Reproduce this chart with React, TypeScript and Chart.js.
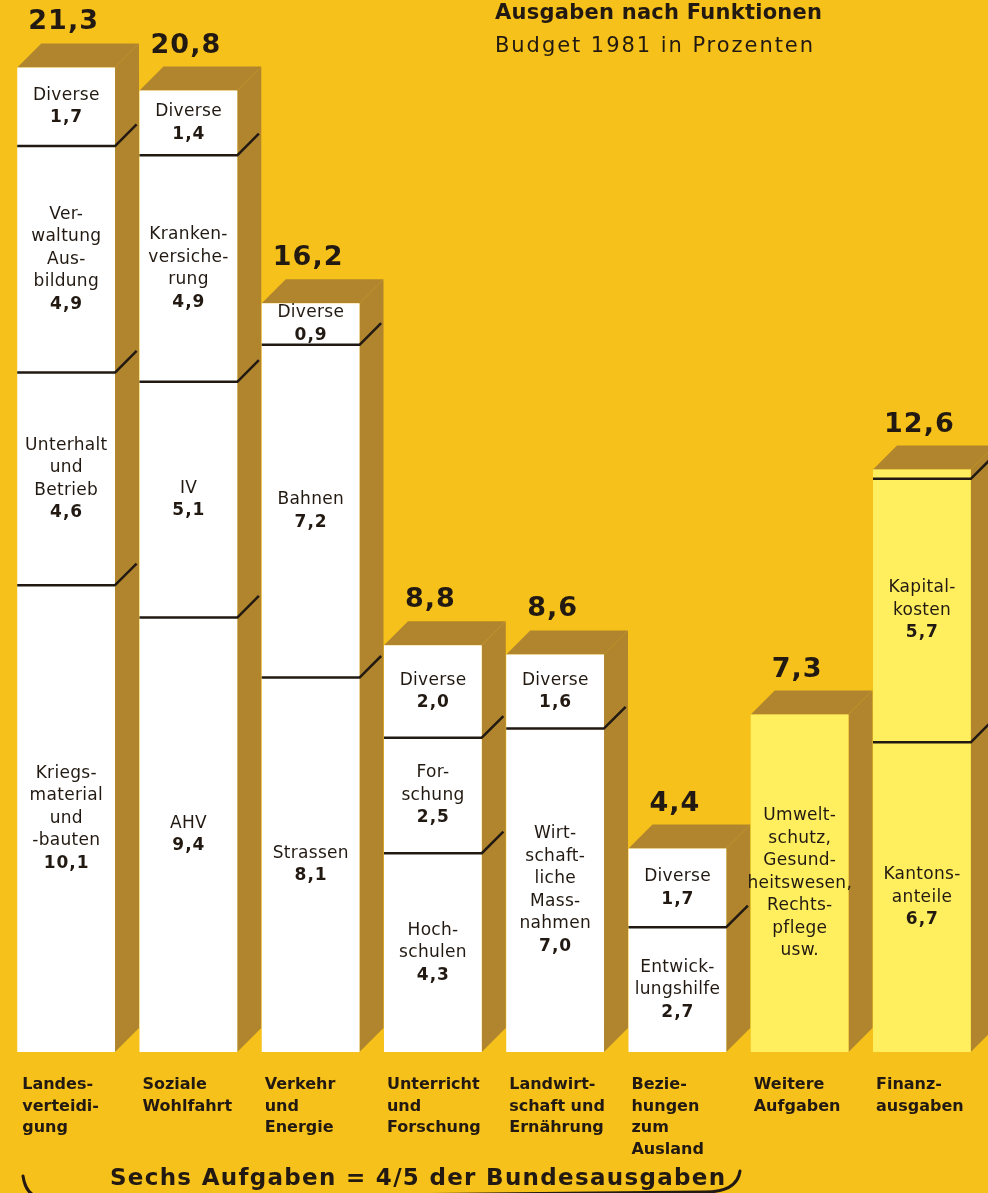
import React, { useEffect, useRef } from "react";
import { Chart, registerables } from "chart.js";

Chart.register(...registerables);

// ---------- DATA ----------
const categories: string[][] = [
  ["Landes-", "verteidi-", "gung"],
  ["Soziale", "Wohlfahrt"],
  ["Verkehr", "und", "Energie"],
  ["Unterricht", "und", "Forschung"],
  ["Landwirt-", "schaft und", "Ernährung"],
  ["Bezie-", "hungen", "zum", "Ausland"],
  ["Weitere", "Aufgaben"],
  ["Finanz-", "ausgaben"],
];

// stacked segments, bottom (level1) to top (level4), in % of budget 1981
const level1 = [10.1, 9.4, 8.1, 4.3, 7.0, 2.7, 7.3, 6.7];
const level2 = [4.6, 5.1, 7.2, 2.5, 1.6, 1.7, null, 5.7];
const level3 = [4.9, 4.9, 0.9, 2.0, null, null, null, 0.2];
const level4 = [1.7, 1.4, null, null, null, null, null, null];

const labels1: string[][] = [
  ["Kriegs-", "material", "und", "-bauten"],
  ["AHV"],
  ["Strassen"],
  ["Hoch-", "schulen"],
  ["Wirt-", "schaft-", "liche", "Mass-", "nahmen"],
  ["Entwick-", "lungshilfe"],
  ["Umwelt-", "schutz,", "Gesund-", "heitswesen,", "Rechts-", "pflege", "usw."],
  ["Kantons-", "anteile"],
];
const labels2: string[][] = [
  ["Unterhalt", "und", "Betrieb"],
  ["IV"],
  ["Bahnen"],
  ["For-", "schung"],
  ["Diverse"],
  ["Diverse"],
  [],
  ["Kapital-", "kosten"],
];
const labels3: string[][] = [
  ["Ver-", "waltung", "Aus-", "bildung"],
  ["Kranken-", "versiche-", "rung"],
  ["Diverse"],
  ["Diverse"],
  [],
  [],
  [],
  [],
];
const labels4: string[][] = [["Diverse"], ["Diverse"], [], [], [], [], [], []];

// columns whose bottom segment shows no number
const hideValue1 = [false, false, false, false, false, false, true, false];

const titleText = "Ausgaben nach Funktionen";
const subtitleText = "Budget 1981 in Prozenten";
const bracketText = "Sechs Aufgaben = 4/5 der Bundesausgaben";

// ---------- STYLE ----------
const BG = "#F6C11A";
const BROWN = "#B0852E";
const WHITE = "#FFFFFF";
const LIGHT = "#FFEF5E";
const INK = "#221a12";
const FONT = "'DejaVu Sans', 'Liberation Sans', sans-serif";
const DEPTH = 24;

const levels = [level1, level2, level3, level4];
const levelLabels = [labels1, labels2, labels3, labels4];
const frontColors = categories.map((_, i) => (i >= 6 ? LIGHT : WHITE));

const fmt = (v: number) => v.toFixed(1).replace(".", ",");

function colGeometry(chart: any) {
  const cols: any[] = [];
  for (let i = 0; i < categories.length; i++) {
    const segs: any[] = [];
    levels.forEach((lv, k) => {
      const v = lv[i];
      if (v == null) return;
      const el = chart.getDatasetMeta(k).data[i];
      if (!el) return;
      const p = el.getProps(["x", "y", "base", "width"], true);
      segs.push({ k, v, x: p.x, top: p.y, bottom: p.base, width: p.width });
    });
    if (!segs.length) continue;
    const w = segs[0].width;
    const x = segs[0].x;
    cols.push({
      i,
      segs,
      left: x - w / 2,
      right: x + w / 2,
      cx: x,
      top: Math.min(...segs.map((s) => s.top)),
      bottom: Math.max(...segs.map((s) => s.bottom)),
      total: segs.reduce((a, s) => a + s.v, 0),
    });
  }
  return cols;
}

function fitText(ctx: any, text: string, x: number, y: number, width: number) {
  ctx.letterSpacing = "0px";
  const w = ctx.measureText(text).width;
  const ls = (width - w) / Math.max(1, text.length - 1);
  ctx.letterSpacing = ls + "px";
  ctx.textAlign = "left";
  ctx.fillText(text, x, y);
  ctx.letterSpacing = "0px";
}

function centeredText(ctx: any, text: string, x: number, y: number, ls: number) {
  ctx.letterSpacing = ls + "px";
  ctx.textAlign = "center";
  ctx.fillText(text, x + ls / 2, y);
  ctx.letterSpacing = "0px";
}

const decoPlugin = {
  id: "deco",
  beforeDraw(chart: any) {
    const ctx = chart.ctx;
    ctx.save();
    ctx.fillStyle = BG;
    ctx.fillRect(0, 0, chart.width, chart.height);
    ctx.restore();
  },
  beforeDatasetsDraw(chart: any) {
    const ctx = chart.ctx;
    const cols = colGeometry(chart);
    ctx.save();
    ctx.fillStyle = BROWN;
    cols.forEach((c) => {
      const D = DEPTH;
      ctx.beginPath();
      ctx.moveTo(c.right, c.top);
      ctx.lineTo(c.right + D, c.top - D);
      ctx.lineTo(c.right + D, c.bottom - D);
      ctx.lineTo(c.right, c.bottom);
      ctx.closePath();
      ctx.fill();
      ctx.beginPath();
      ctx.moveTo(c.left, c.top);
      ctx.lineTo(c.left + D, c.top - D);
      ctx.lineTo(c.right + D, c.top - D);
      ctx.lineTo(c.right, c.top);
      ctx.closePath();
      ctx.fill();
    });
    ctx.restore();
  },
  afterDatasetsDraw(chart: any) {
    const ctx = chart.ctx;
    const cols = colGeometry(chart);
    ctx.save();
    // separators
    ctx.strokeStyle = INK;
    ctx.lineWidth = 2.5;
    ctx.lineJoin = "round";
    cols.forEach((c) => {
      c.segs.forEach((s: any, idx: number) => {
        if (idx === c.segs.length - 1) return;
        const y = s.top;
        ctx.beginPath();
        ctx.moveTo(c.left, y);
        ctx.lineTo(c.right, y);
        ctx.lineTo(c.right + DEPTH * 0.9, y - DEPTH * 0.9);
        ctx.stroke();
      });
    });

    // inner labels
    ctx.fillStyle = INK;
    ctx.textBaseline = "middle";
    const LH = 22.5;
    cols.forEach((c) => {
      c.segs.forEach((s: any) => {
        const names = levelLabels[s.k][c.i];
        if (!names || !names.length) return;
        const lines = names.map((t) => ({ t, bold: false }));
        if (!(s.k === 0 && hideValue1[c.i])) lines.push({ t: fmt(s.v), bold: true });
        const mid = (s.top + s.bottom) / 2;
        const y0 = mid - ((lines.length - 1) * LH) / 2;
        lines.forEach((ln, j) => {
          ctx.font = (ln.bold ? "bold " : "") + "17px " + FONT;
          centeredText(ctx, ln.t, c.cx, y0 + j * LH, ln.bold ? 1.0 : 0.3);
        });
      });
    });

    // totals
    ctx.textBaseline = "alphabetic";
    ctx.font = "bold 27px " + FONT;
    cols.forEach((c) => {
      centeredText(ctx, fmt(c.total), c.cx - 3, c.top - 38, 1);
    });

    // category labels
    ctx.font = "bold 16px " + FONT;
    ctx.textBaseline = "middle";
    cols.forEach((c) => {
      const lines = categories[c.i];
      ctx.textAlign = "left";
      lines.forEach((t, j) => {
        ctx.fillText(t, c.left + (c.i === 0 ? 5 : 3), 1085 + j * 21.5);
      });
    });

    // title
    ctx.textBaseline = "alphabetic";
    ctx.font = "bold 21px " + FONT;
    fitText(ctx, titleText, 495, 19, 327);
    ctx.font = "21px " + FONT;
    fitText(ctx, subtitleText, 495, 52, 318);

    // bracket
    ctx.font = "bold 23px " + FONT;
    fitText(ctx, bracketText, 110, 1185, 615);
    ctx.lineWidth = 3;
    ctx.lineCap = "round";
    ctx.beginPath();
    ctx.moveTo(23, 1176);
    ctx.quadraticCurveTo(26, 1198, 45, 1198);
    ctx.lineTo(705, 1192);
    ctx.quadraticCurveTo(737, 1192, 740, 1171);
    ctx.stroke();

    ctx.restore();
  },
};

export default function App() {
  const ref = useRef<HTMLCanvasElement | null>(null);
  useEffect(() => {
    if (!ref.current) return;
    const chart = new Chart(ref.current, {
      type: "bar",
      data: {
        labels: categories.map((c) => c.join(" ")),
        datasets: levels.map((lv, k) => ({
          label: "Ebene " + (k + 1),
          data: lv as any,
          backgroundColor: frontColors,
          borderWidth: 0,
          barPercentage: 0.8,
          categoryPercentage: 1,
        })),
      },
      options: {
        responsive: false,
        animation: false,
        devicePixelRatio: 1,
        layout: { padding: { left: 5, right: 5, top: 12, bottom: 141 } },
        plugins: {
          legend: { display: false },
          tooltip: { enabled: false },
          title: { display: false },
        },
        scales: {
          x: { stacked: true, display: false },
          y: { stacked: true, display: false, min: 0, max: 22.5 },
        },
      },
      plugins: [decoPlugin],
    });
    return () => chart.destroy();
  }, []);
  return (
    <div style={{ position: "absolute", left: 0, top: 0, width: 988, height: 1193, background: BG }}>
      <canvas ref={ref} width={988} height={1193} />
    </div>
  );
}
